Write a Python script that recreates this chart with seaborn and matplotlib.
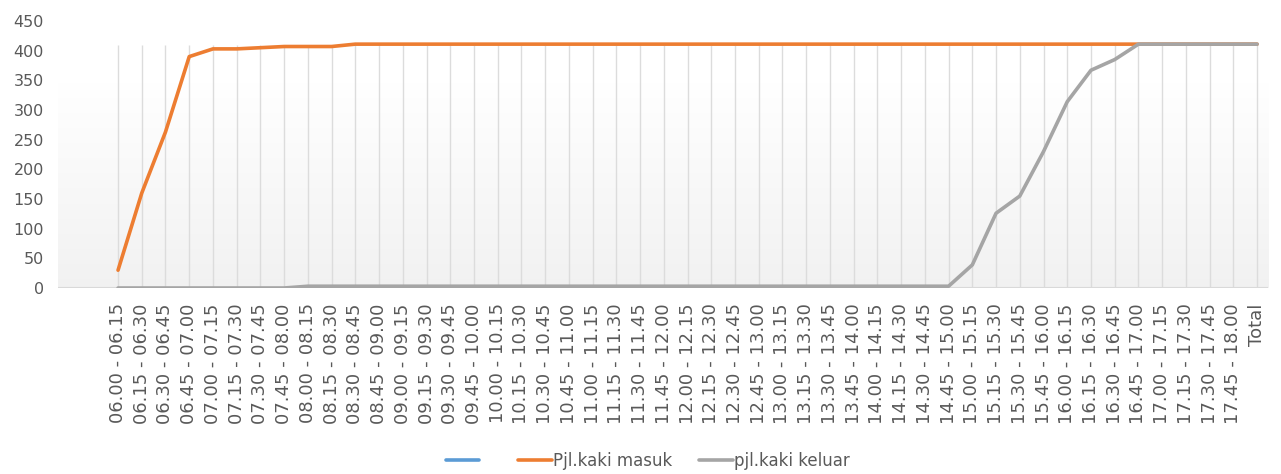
import numpy as np
import pandas as pd
import matplotlib
matplotlib.use("Agg")
import matplotlib.pyplot as plt
import seaborn as sns

# ---------------- data ----------------
categories = [
    "06.00 - 06.15", "06.15 - 06.30", "06.30 - 06.45", "06.45 - 07.00",
    "07.00 - 07.15", "07.15 - 07.30", "07.30 - 07.45", "07.45 - 08.00",
    "08.00 - 08.15", "08.15 - 08.30", "08.30 - 08.45", "08.45 - 09.00",
    "09.00 - 09.15", "09.15 - 09.30", "09.30 - 09.45", "09.45 - 10.00",
    "10.00 - 10.15", "10.15 - 10.30", "10.30 - 10.45", "10.45 - 11.00",
    "11.00 - 11.15", "11.15 - 11.30", "11.30 - 11.45", "11.45 - 12.00",
    "12.00 - 12.15", "12.15 - 12.30", "12.30 - 12.45", "12.45 - 13.00",
    "13.00 - 13.15", "13.15 - 13.30", "13.30 - 13.45", "13.45 - 14.00",
    "14.00 - 14.15", "14.15 - 14.30", "14.30 - 14.45", "14.45 - 15.00",
    "15.00 - 15.15", "15.15 - 15.30", "15.30 - 15.45", "15.45 - 16.00",
    "16.00 - 16.15", "16.15 - 16.30", "16.30 - 16.45", "16.45 - 17.00",
    "17.00 - 17.15", "17.15 - 17.30", "17.30 - 17.45", "17.45 - 18.00",
    "Total",
]

pjl_masuk = [
    30, 160, 263, 390, 403, 403, 405, 407, 407, 407, 411, 411,
    411, 411, 411, 411, 411, 411, 411, 411, 411, 411, 411, 411,
    411, 411, 411, 411, 411, 411, 411, 411, 411, 411, 411, 411,
    411, 411, 411, 411, 411, 411, 411, 411, 411, 411, 411, 411,
    411,
]

pjl_keluar = [
    0, 0, 0, 0, 0, 0, 0, 0, 3, 3, 3, 3,
    3, 3, 3, 3, 3, 3, 3, 3, 3, 3, 3, 3,
    3, 3, 3, 3, 3, 3, 3, 3, 3, 3, 3, 3,
    39, 126, 155, 230, 314, 367, 385, 411, 411, 411, 411, 411,
    411,
]

series_names = ["  ", "Pjl.kaki masuk", "pjl.kaki keluar"]
series_colors = ["#5b9bd5", "#ed7d31", "#a5a5a5"]

# ---------------- figure ----------------
sns.set_style("white")
plt.rcParams["font.family"] = ["DejaVu Sans"]

fig = plt.figure(figsize=(12.81, 4.74), dpi=100)
ax = fig.add_axes([58 / 1281, 1 - 288 / 474, (1268 - 58) / 1281, (288 - 21) / 474])

n = len(categories)
xpos = np.arange(n)
xmin, xmax = -2.53, n - 1 + 0.46
ax.set_xlim(xmin, xmax)
ax.set_ylim(0, 450)

# gradient plot-area background
grad_top = 410
grad = np.linspace(1.0, 0.937, 256)
grad = np.concatenate([np.ones(40), grad])[:256].reshape(-1, 1)
ax.imshow(np.dstack([grad, grad, grad]), extent=(xmin, xmax, 0, grad_top),
          aspect="auto", zorder=0, origin="upper", interpolation="bilinear")

# vertical gridlines at categories
ax.vlines(xpos, 0, grad_top, colors="#dcdcdc", linewidth=1.0, zorder=1)
# baseline
ax.axhline(0, color="#d9d9d9", linewidth=1.5, zorder=1)

df = pd.DataFrame({"x": xpos, "masuk": pjl_masuk, "keluar": pjl_keluar})

# blank (blue) series only for the legend entry
ax.plot([], [], color=series_colors[0], linewidth=2.6, label=series_names[0])
sns.lineplot(data=df, x="x", y="masuk", ax=ax, color=series_colors[1],
             linewidth=2.6, label=series_names[1], zorder=3)
sns.lineplot(data=df, x="x", y="keluar", ax=ax, color=series_colors[2],
             linewidth=2.6, label=series_names[2], zorder=4)

ax.set_xlabel("")
ax.set_ylabel("")
ax.set_xticks(xpos)
ax.set_xticklabels(categories, rotation=90, fontsize=13, color="#595959",
                   va="top", ha="center")
ax.set_yticks(np.arange(0, 451, 50))
ax.set_yticklabels([str(v) for v in range(0, 451, 50)], fontsize=11.5,
                   color="#595959")
ax.tick_params(axis="both", length=0)
ax.tick_params(axis="x", pad=11)
ax.tick_params(axis="y", pad=10)
for s in ax.spines.values():
    s.set_visible(False)
ax.grid(False)

leg = ax.legend(loc="center", bbox_to_anchor=(648 / 1281, 1 - 461 / 474),
                bbox_transform=fig.transFigure, ncol=3, frameon=False,
                fontsize=12, handlelength=2.0, handletextpad=0.1,
                columnspacing=1.6)
for t in leg.get_texts():
    t.set_color("#595959")

fig.savefig("out.png", dpi=100, facecolor="white")
